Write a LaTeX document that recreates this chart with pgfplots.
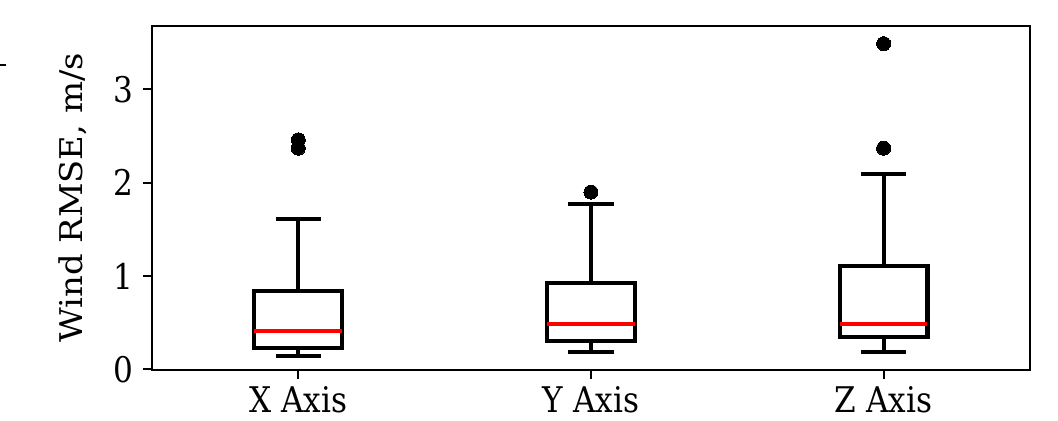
\documentclass[border=0pt]{standalone}
\usepackage{fontspec}
\setmainfont{DejaVu Serif}
\newfontfamily\tickfont[FakeStretch=0.88]{DejaVu Serif}
\newfontfamily\labelfont[FakeStretch=1.08]{DejaVu Serif}
\usepackage{pgfplots}
\pgfplotsset{compat=1.18}
\usepgfplotslibrary{statistics}
\begin{document}
\begin{tikzpicture}
\path[use as bounding box] (-56.3pt,-18.9pt) rectangle (335.6pt,137pt);
\draw[line width=0.6pt] (-56.3pt,113pt) -- (-54pt,113pt);
\begin{axis}[
  at={(0pt,0pt)}, anchor=south west,
  scale only axis, width=325.2pt, height=127.4pt,
  xmin=0.5, xmax=3.5, ymin=-0.005, ymax=3.68,
  xtick={1,2,3}, xticklabels={X Axis, Y Axis, Z Axis},
  ytick={0,1,2,3},
  tick align=outside, xtick pos=bottom, ytick pos=left,
  major tick length=3.5pt,
  every tick/.style={black, line width=0.8pt},
  axis line style={line width=0.8pt},
  tick label style={font=\tickfont\fontsize{13.1}{15}\selectfont},
  label style={font=\labelfont\fontsize{11.6}{14}\selectfont},
  /pgf/number format/assume math mode=true,
  ylabel={Wind RMSE, m/s},
  ylabel style={yshift=3pt},
  xticklabel style={yshift=1pt},
  boxplot/draw direction=y,
  boxplot/every box/.style={black, line width=1.5pt},
  boxplot/every whisker/.style={black, line width=1.5pt},
  boxplot/every median/.style={red, line width=1.5pt},
]
\addplot+[boxplot prepared={median=0.41, upper quartile=0.84, lower quartile=0.23, upper whisker=1.61, lower whisker=0.14, draw position=1, box extend=0.3, whisker extend=0.155},
  black, solid, line width=1.5pt, mark=*, mark size=2.6pt, mark options={fill=black, line width=0pt}]
  coordinates {(1,2.46) (1,2.37)};
\addplot+[boxplot prepared={median=0.49, upper quartile=0.93, lower quartile=0.30, upper whisker=1.77, lower whisker=0.19, draw position=2, box extend=0.3, whisker extend=0.155},
  black, solid, line width=1.5pt, mark=*, mark size=2.6pt, mark options={fill=black, line width=0pt}]
  coordinates {(2,1.90)};
\addplot+[boxplot prepared={median=0.49, upper quartile=1.11, lower quartile=0.35, upper whisker=2.09, lower whisker=0.19, draw position=3, box extend=0.3, whisker extend=0.155},
  black, solid, line width=1.5pt, mark=*, mark size=2.6pt, mark options={fill=black, line width=0pt}]
  coordinates {(3,3.49) (3,2.37)};
\end{axis}
\end{tikzpicture}
\end{document}
